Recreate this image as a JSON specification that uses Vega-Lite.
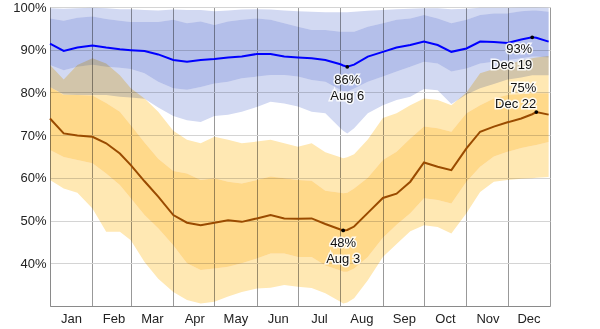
{
  "$schema": "https://vega.github.io/schema/vega-lite/v6.json",
  "width": 500,
  "height": 299,
  "autosize": {"type": "none"},
  "padding": {"left": 50, "top": 7, "right": 50, "bottom": 23},
  "background": "white",
  "config": {"view": {"stroke": null}, "font": "Liberation Sans"},
  "datasets": {
    "blue": [
      {"d": "2021-01-01", "p10": 81.3, "p25": 86.4, "m": 91.4, "p75": 97.3, "p90": 99.7},
      {"d": "2021-01-11", "p10": 79.5, "p25": 85.2, "m": 89.7, "p75": 96.8, "p90": 99.6},
      {"d": "2021-01-21", "p10": 79.4, "p25": 86.0, "m": 90.5, "p75": 97.5, "p90": 99.7},
      {"d": "2021-02-01", "p10": 79.4, "p25": 86.5, "m": 91.0, "p75": 97.8, "p90": 99.8},
      {"d": "2021-02-11", "p10": 79.4, "p25": 86.0, "m": 90.5, "p75": 97.2, "p90": 99.7},
      {"d": "2021-02-21", "p10": 79.0, "p25": 85.8, "m": 90.1, "p75": 96.8, "p90": 99.5},
      {"d": "2021-03-01", "p10": 78.8, "p25": 85.5, "m": 89.9, "p75": 96.5, "p90": 99.5},
      {"d": "2021-03-11", "p10": 78.5, "p25": 84.5, "m": 89.7, "p75": 96.5, "p90": 99.3},
      {"d": "2021-03-21", "p10": 76.5, "p25": 82.5, "m": 88.9, "p75": 96.5, "p90": 99.2},
      {"d": "2021-04-01", "p10": 74.5, "p25": 81.0, "m": 87.6, "p75": 97.0, "p90": 99.4},
      {"d": "2021-04-11", "p10": 73.5, "p25": 80.6, "m": 87.2, "p75": 96.2, "p90": 99.3},
      {"d": "2021-04-21", "p10": 73.1, "p25": 81.3, "m": 87.6, "p75": 96.6, "p90": 99.3},
      {"d": "2021-05-01", "p10": 74.5, "p25": 82.1, "m": 87.8, "p75": 95.8, "p90": 99.0},
      {"d": "2021-05-11", "p10": 74.8, "p25": 82.5, "m": 88.2, "p75": 96.6, "p90": 99.2},
      {"d": "2021-05-21", "p10": 75.5, "p25": 83.3, "m": 88.4, "p75": 97.0, "p90": 99.4},
      {"d": "2021-06-01", "p10": 76.6, "p25": 83.7, "m": 89.0, "p75": 97.3, "p90": 99.5},
      {"d": "2021-06-11", "p10": 77.8, "p25": 84.1, "m": 89.0, "p75": 97.0, "p90": 99.4},
      {"d": "2021-06-21", "p10": 77.4, "p25": 84.1, "m": 88.4, "p75": 96.2, "p90": 99.2},
      {"d": "2021-07-01", "p10": 76.7, "p25": 83.7, "m": 88.2, "p75": 95.4, "p90": 99.0},
      {"d": "2021-07-11", "p10": 75.5, "p25": 82.9, "m": 88.0, "p75": 94.6, "p90": 98.9},
      {"d": "2021-07-21", "p10": 75.1, "p25": 82.5, "m": 87.6, "p75": 94.6, "p90": 98.8},
      {"d": "2021-08-01", "p10": 71.6, "p25": 80.6, "m": 86.6, "p75": 94.2, "p90": 98.8},
      {"d": "2021-08-03", "p10": 71.0, "p25": 80.3, "m": 86.3, "p75": 94.2, "p90": 98.8},
      {"d": "2021-08-06", "p10": 70.4, "p25": 80.2, "m": 86.0, "p75": 94.2, "p90": 98.8},
      {"d": "2021-08-11", "p10": 71.6, "p25": 80.9, "m": 86.5, "p75": 94.2, "p90": 98.9},
      {"d": "2021-08-21", "p10": 75.1, "p25": 82.5, "m": 88.4, "p75": 95.4, "p90": 99.1},
      {"d": "2021-09-01", "p10": 77.0, "p25": 83.7, "m": 89.5, "p75": 96.2, "p90": 99.3},
      {"d": "2021-09-11", "p10": 78.2, "p25": 84.9, "m": 90.5, "p75": 97.0, "p90": 99.5},
      {"d": "2021-09-21", "p10": 79.0, "p25": 86.0, "m": 91.1, "p75": 97.3, "p90": 99.6},
      {"d": "2021-10-01", "p10": 80.8, "p25": 87.2, "m": 91.9, "p75": 98.1, "p90": 99.7},
      {"d": "2021-10-11", "p10": 80.5, "p25": 86.8, "m": 91.1, "p75": 97.3, "p90": 99.7},
      {"d": "2021-10-21", "p10": 77.3, "p25": 84.9, "m": 89.5, "p75": 96.2, "p90": 99.5},
      {"d": "2021-11-01", "p10": 79.5, "p25": 85.6, "m": 90.3, "p75": 97.0, "p90": 99.6},
      {"d": "2021-11-11", "p10": 81.0, "p25": 86.8, "m": 91.9, "p75": 98.1, "p90": 99.8},
      {"d": "2021-11-21", "p10": 82.0, "p25": 87.2, "m": 91.8, "p75": 98.5, "p90": 99.8},
      {"d": "2021-12-01", "p10": 83.0, "p25": 87.6, "m": 91.6, "p75": 98.5, "p90": 99.8},
      {"d": "2021-12-11", "p10": 83.5, "p25": 88.0, "m": 92.4, "p75": 99.0, "p90": 99.9},
      {"d": "2021-12-19", "p10": 84.0, "p25": 88.4, "m": 92.9, "p75": 99.2, "p90": 99.9},
      {"d": "2021-12-22", "p10": 84.0, "p25": 88.4, "m": 92.8, "p75": 99.2, "p90": 99.9},
      {"d": "2021-12-31", "p10": 84.0, "p25": 88.2, "m": 91.9, "p75": 98.9, "p90": 99.8}
    ],
    "orange": [
      {"d": "2021-01-01", "p10": 59.5, "p25": 66.5, "m": 73.9, "p75": 81.3, "p90": 86.4},
      {"d": "2021-01-11", "p10": 57.5, "p25": 64.9, "m": 70.4, "p75": 79.4, "p90": 83.0},
      {"d": "2021-01-21", "p10": 56.5, "p25": 64.2, "m": 69.9, "p75": 79.4, "p90": 86.4},
      {"d": "2021-02-01", "p10": 52.8, "p25": 63.4, "m": 69.6, "p75": 79.3, "p90": 88.0},
      {"d": "2021-02-11", "p10": 47.4, "p25": 61.0, "m": 68.1, "p75": 77.5, "p90": 86.8},
      {"d": "2021-02-21", "p10": 47.4, "p25": 58.3, "m": 65.7, "p75": 75.5, "p90": 84.0},
      {"d": "2021-03-01", "p10": 45.4, "p25": 55.2, "m": 63.0, "p75": 72.3, "p90": 81.0},
      {"d": "2021-03-11", "p10": 40.3, "p25": 51.3, "m": 59.2, "p75": 68.3, "p90": 78.6},
      {"d": "2021-03-21", "p10": 36.4, "p25": 48.2, "m": 55.6, "p75": 64.5, "p90": 75.5},
      {"d": "2021-04-01", "p10": 33.3, "p25": 44.2, "m": 51.3, "p75": 61.6, "p90": 71.0},
      {"d": "2021-04-11", "p10": 31.4, "p25": 40.0, "m": 49.5, "p75": 61.0, "p90": 68.9},
      {"d": "2021-04-21", "p10": 30.6, "p25": 38.4, "m": 48.9, "p75": 59.5, "p90": 68.1},
      {"d": "2021-05-01", "p10": 31.0, "p25": 38.8, "m": 49.5, "p75": 59.9, "p90": 69.6},
      {"d": "2021-05-11", "p10": 32.2, "p25": 39.2, "m": 50.1, "p75": 59.1, "p90": 68.9},
      {"d": "2021-05-21", "p10": 33.3, "p25": 40.0, "m": 49.7, "p75": 58.7, "p90": 68.1},
      {"d": "2021-06-01", "p10": 34.1, "p25": 41.1, "m": 50.5, "p75": 59.5, "p90": 68.5},
      {"d": "2021-06-11", "p10": 34.3, "p25": 42.3, "m": 51.3, "p75": 60.3, "p90": 68.9},
      {"d": "2021-06-21", "p10": 34.9, "p25": 42.3, "m": 50.5, "p75": 59.9, "p90": 68.1},
      {"d": "2021-07-01", "p10": 34.5, "p25": 41.5, "m": 50.4, "p75": 59.5, "p90": 67.3},
      {"d": "2021-07-11", "p10": 34.2, "p25": 41.5, "m": 50.5, "p75": 59.3, "p90": 68.1},
      {"d": "2021-07-21", "p10": 33.0, "p25": 39.5, "m": 49.2, "p75": 57.0, "p90": 66.0},
      {"d": "2021-08-01", "p10": 31.0, "p25": 38.3, "m": 47.9, "p75": 56.5, "p90": 64.8},
      {"d": "2021-08-03", "p10": 30.6, "p25": 38.0, "m": 47.7, "p75": 56.4, "p90": 64.6},
      {"d": "2021-08-06", "p10": 30.8, "p25": 38.0, "m": 47.8, "p75": 56.5, "p90": 64.8},
      {"d": "2021-08-11", "p10": 31.8, "p25": 38.8, "m": 48.6, "p75": 57.5, "p90": 65.5},
      {"d": "2021-08-21", "p10": 36.0, "p25": 41.5, "m": 51.8, "p75": 60.0, "p90": 69.0},
      {"d": "2021-09-01", "p10": 41.5, "p25": 46.0, "m": 55.3, "p75": 64.2, "p90": 74.0},
      {"d": "2021-09-11", "p10": 44.5, "p25": 49.0, "m": 56.3, "p75": 66.1, "p90": 75.1},
      {"d": "2021-09-21", "p10": 47.5, "p25": 51.7, "m": 59.1, "p75": 69.2, "p90": 77.0},
      {"d": "2021-10-01", "p10": 48.9, "p25": 55.2, "m": 63.6, "p75": 72.0, "p90": 78.6},
      {"d": "2021-10-11", "p10": 48.5, "p25": 54.8, "m": 62.6, "p75": 71.6, "p90": 78.2},
      {"d": "2021-10-21", "p10": 47.0, "p25": 54.0, "m": 61.8, "p75": 70.8, "p90": 77.0},
      {"d": "2021-11-01", "p10": 51.7, "p25": 59.1, "m": 66.9, "p75": 75.1, "p90": 80.0},
      {"d": "2021-11-11", "p10": 56.7, "p25": 62.6, "m": 70.8, "p75": 77.0, "p90": 84.5},
      {"d": "2021-11-21", "p10": 59.1, "p25": 65.0, "m": 72.0, "p75": 78.6, "p90": 85.5},
      {"d": "2021-12-01", "p10": 59.5, "p25": 66.1, "m": 73.0, "p75": 79.4, "p90": 86.5},
      {"d": "2021-12-11", "p10": 59.8, "p25": 67.0, "m": 73.9, "p75": 79.6, "p90": 87.5},
      {"d": "2021-12-19", "p10": 59.9, "p25": 67.5, "m": 74.9, "p75": 79.8, "p90": 88.0},
      {"d": "2021-12-22", "p10": 60.0, "p25": 67.7, "m": 75.4, "p75": 79.8, "p90": 88.2},
      {"d": "2021-12-31", "p10": 60.2, "p25": 68.4, "m": 74.8, "p75": 79.8, "p90": 88.5}
    ],
    "ann": [
      {"d": "2021-08-06", "v": 86.0, "label": "86%\nAug 6", "k": "c"},
      {"d": "2021-08-03", "v": 47.7, "label": "48%\nAug 3", "k": "c"},
      {"d": "2021-12-19", "v": 92.9, "label": "93%\nDec 19", "k": "rb"},
      {"d": "2021-12-22", "v": 75.4, "label": "75%\nDec 22", "k": "ra"}
    ]
  },
  "encoding": {
    "x": {
      "field": "d",
      "type": "temporal",
      "title": null,
      "scale": {"type": "utc", "domain": [{"year": 2021, "month": 1, "date": 1, "utc": true}, {"year": 2022, "month": 1, "date": 1, "utc": true}]},
      "axis": {
        "values": [
          {"year": 2021, "month": 1, "date": 1, "utc": true},
          {"year": 2021, "month": 2, "date": 1, "utc": true},
          {"year": 2021, "month": 3, "date": 1, "utc": true},
          {"year": 2021, "month": 4, "date": 1, "utc": true},
          {"year": 2021, "month": 5, "date": 1, "utc": true},
          {"year": 2021, "month": 6, "date": 1, "utc": true},
          {"year": 2021, "month": 7, "date": 1, "utc": true},
          {"year": 2021, "month": 8, "date": 1, "utc": true},
          {"year": 2021, "month": 9, "date": 1, "utc": true},
          {"year": 2021, "month": 10, "date": 1, "utc": true},
          {"year": 2021, "month": 11, "date": 1, "utc": true},
          {"year": 2021, "month": 12, "date": 1, "utc": true},
          {"year": 2022, "month": 1, "date": 1, "utc": true}
        ],
        "labelExpr": "utcyear(datum.value) > 2021 ? '' : utcFormat(datum.value, '%b')",
        "labelOffset": 21,
        "labelFlush": false,
        "labelOverlap": false,
        "labelBound": false,
        "grid": true,
        "gridColor": "#999999",
        "gridOpacity": 1,
        "ticks": false,
        "domainColor": "#8a8a8a",
        "labelPadding": 6,
        "labelFontSize": 13,
        "labelColor": "#222222",
        "labelFont": "Liberation Sans"
      }
    }
  },
  "layer": [
    {
      "data": {"name": "blue"},
      "mark": {"type": "area", "color": "#d2d9f2", "blend": "multiply"},
      "encoding": {
        "y": {
          "field": "p10", "type": "quantitative", "title": null,
          "scale": {"domain": [30, 100], "nice": false, "zero": false},
          "axis": {
            "values": [40, 50, 60, 70, 80, 90, 100],
            "labelExpr": "datum.value + '%'",
            "grid": true, "gridColor": "#d4d4d4", "gridOpacity": 1,
            "ticks": false, "domainColor": "#8a8a8a",
            "labelPadding": 4, "labelFontSize": 13, "labelColor": "#222222",
            "labelFont": "Liberation Sans", "title": null
          }
        },
        "y2": {"field": "p25"}
      }
    },
    {
      "data": {"name": "blue"},
      "mark": {"type": "area", "color": "#b4bfea", "blend": "multiply"},
      "encoding": {"y": {"field": "p25", "type": "quantitative", "title": null}, "y2": {"field": "p75"}}
    },
    {
      "data": {"name": "blue"},
      "mark": {"type": "area", "color": "#d2d9f2", "blend": "multiply"},
      "encoding": {"y": {"field": "p75", "type": "quantitative", "title": null}, "y2": {"field": "p90"}}
    },
    {
      "data": {"name": "orange"},
      "mark": {"type": "area", "color": "#ffe8b3", "blend": "multiply"},
      "encoding": {"y": {"field": "p10", "type": "quantitative", "title": null}, "y2": {"field": "p25"}}
    },
    {
      "data": {"name": "orange"},
      "mark": {"type": "area", "color": "#ffd98a", "blend": "multiply"},
      "encoding": {"y": {"field": "p25", "type": "quantitative", "title": null}, "y2": {"field": "p75"}}
    },
    {
      "data": {"name": "orange"},
      "mark": {"type": "area", "color": "#ffe8b3", "blend": "multiply"},
      "encoding": {"y": {"field": "p75", "type": "quantitative", "title": null}, "y2": {"field": "p90"}}
    },
    {
      "data": {"name": "blue"},
      "mark": {"type": "line", "color": "#0000ff", "strokeWidth": 2},
      "encoding": {"y": {"field": "m", "type": "quantitative", "title": null}}
    },
    {
      "data": {"name": "orange"},
      "mark": {"type": "line", "color": "#9a4b00", "strokeWidth": 2},
      "encoding": {"y": {"field": "m", "type": "quantitative", "title": null}}
    },
    {
      "data": {"name": "ann"},
      "mark": {"type": "point", "filled": true, "color": "#000000", "size": 14, "opacity": 1},
      "encoding": {"y": {"field": "v", "type": "quantitative", "title": null}}
    },
    {
      "data": {"name": "ann"},
      "transform": [{"filter": "datum.k == 'c'"}],
      "mark": {"type": "text", "align": "center", "baseline": "top", "dy": 7, "lineBreak": "\n", "lineHeight": 16, "fontSize": 13, "font": "Liberation Sans", "stroke": "white", "strokeWidth": 3, "strokeOpacity": 0.85, "fill": "white"},
      "encoding": {"y": {"field": "v", "type": "quantitative", "title": null}, "text": {"field": "label"}}
    },
    {
      "data": {"name": "ann"},
      "transform": [{"filter": "datum.k == 'c'"}],
      "mark": {"type": "text", "align": "center", "baseline": "top", "dy": 7, "lineBreak": "\n", "lineHeight": 16, "fontSize": 13, "font": "Liberation Sans", "fill": "#111111"},
      "encoding": {"y": {"field": "v", "type": "quantitative", "title": null}, "text": {"field": "label"}}
    },
    {
      "data": {"name": "ann"},
      "transform": [{"filter": "datum.k == 'rb'"}],
      "mark": {"type": "text", "align": "right", "baseline": "top", "dy": 6, "lineBreak": "\n", "lineHeight": 16, "fontSize": 13, "font": "Liberation Sans", "stroke": "white", "strokeWidth": 3, "strokeOpacity": 0.85, "fill": "white"},
      "encoding": {"y": {"field": "v", "type": "quantitative", "title": null}, "text": {"field": "label"}}
    },
    {
      "data": {"name": "ann"},
      "transform": [{"filter": "datum.k == 'rb'"}],
      "mark": {"type": "text", "align": "right", "baseline": "top", "dy": 6, "lineBreak": "\n", "lineHeight": 16, "fontSize": 13, "font": "Liberation Sans", "fill": "#111111"},
      "encoding": {"y": {"field": "v", "type": "quantitative", "title": null}, "text": {"field": "label"}}
    },
    {
      "data": {"name": "ann"},
      "transform": [{"filter": "datum.k == 'ra'"}],
      "mark": {"type": "text", "align": "right", "baseline": "top", "dy": -30, "lineBreak": "\n", "lineHeight": 16, "fontSize": 13, "font": "Liberation Sans", "stroke": "white", "strokeWidth": 3, "strokeOpacity": 0.85, "fill": "white"},
      "encoding": {"y": {"field": "v", "type": "quantitative", "title": null}, "text": {"field": "label"}}
    },
    {
      "data": {"name": "ann"},
      "transform": [{"filter": "datum.k == 'ra'"}],
      "mark": {"type": "text", "align": "right", "baseline": "top", "dy": -30, "lineBreak": "\n", "lineHeight": 16, "fontSize": 13, "font": "Liberation Sans", "fill": "#111111"},
      "encoding": {"y": {"field": "v", "type": "quantitative", "title": null}, "text": {"field": "label"}}
    }
  ]
}
